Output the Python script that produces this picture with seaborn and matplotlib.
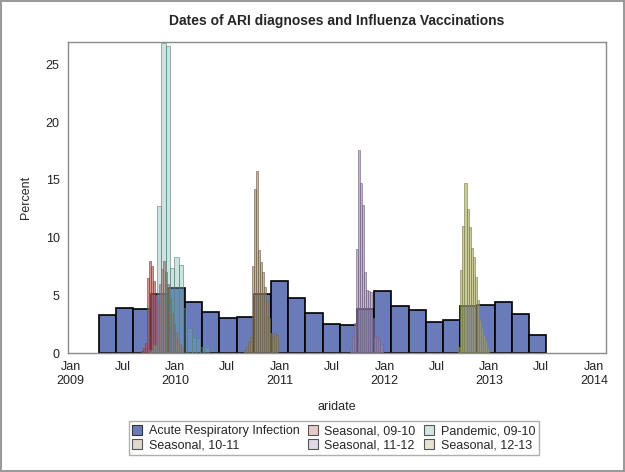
import numpy as np
import pandas as pd
import seaborn as sns
import matplotlib
matplotlib.use("Agg")
import matplotlib.pyplot as plt
import matplotlib.dates as mdates
from matplotlib.patches import Patch

# ---- data (percent of each group per bin) ----
ari_start = "2009-04-10"   # 60-day bins
ari_width = 60
ari_pct = [3.3, 3.9, 3.8, 5.1, 5.6, 4.4, 3.6, 3.0, 3.1, 5.1, 6.2, 4.8, 3.5,
           2.5, 2.4, 3.8, 5.4, 4.1, 3.7, 2.7, 2.85, 4.1, 4.15, 4.4, 3.4, 1.55]

s0910_start = "2009-09-04"  # weekly bins
s0910_pct = [0.2, 0.4, 0.9, 6.5, 8.0, 7.5, 6.2, 5.0, 4.5, 6.0, 7.3, 8.0, 7.0,
             6.0, 4.8, 3.5, 2.5, 1.8, 1.2, 0.8, 0.5]

p0910_start = "2009-09-30"  # 15-day bins
p0910_width = 15
p0910_pct = [0.3, 0.7, 12.7, 26.85, 26.6, 7.4, 8.3, 7.6, 3.9, 2.2, 1.4, 1.3, 0.5, 0.5]

s1011_start = "2010-08-30"
s1011_pct = [0.3, 0.5, 1.0, 1.4, 7.5, 14.2, 15.8, 8.9, 7.9, 7.0, 5.7, 4.5, 3.0,
             1.7, 1.4, 1.7, 1.6]

s1112_start = "2011-09-04"
s1112_pct = [0.4, 1.5, 2.6, 9.0, 17.6, 14.7, 12.8, 7.0, 5.5, 5.4, 5.3, 3.0,
             1.4, 1.5, 1.2, 0.8]

s1213_start = "2012-09-15"
s1213_pct = [0.5, 7.2, 11.0, 14.7, 12.5, 10.9, 9.1, 8.3, 6.6, 4.6, 2.9, 2.2,
             1.6, 1.1, 0.4]

week = 7

labels = ["Acute Respiratory Infection", "Seasonal, 09-10", "Pandemic, 09-10",
          "Seasonal, 10-11", "Seasonal, 11-12", "Seasonal, 12-13"]
colors = ["#6A7BBA", "#B5514A", "#6FAFA8", "#9A8262", "#9A82B0", "#A8A860"]
face_alpha = [1.0, 0.6, 0.35, 0.6, 0.6, 0.6]


def series(start, width, pct):
    s = mdates.date2num(pd.Timestamp(start))
    edges = s + width * np.arange(len(pct) + 1)
    centers = (edges[:-1] + edges[1:]) / 2
    return list(edges), pd.DataFrame({"d": centers, "pct": pct})


def rgba(c, a):
    return matplotlib.colors.to_rgba(c, a)


def darker(c, f=0.75, a=0.7):
    r, g, b = matplotlib.colors.to_rgb(c)
    return (r * f, g * f, b * f, a)


sns.set_style("white")
plt.rcParams["font.family"] = ["Liberation Sans", "DejaVu Sans"]

fig = plt.figure(figsize=(6.25, 4.72), dpi=100, edgecolor="#9a9a9a", linewidth=1.5)
ax = fig.add_axes([0.1088, 0.252, 0.861, 0.659])

# ARI first, vaccinations on top
e, df = series(ari_start, ari_width, ari_pct)
sns.histplot(data=df, x="d", weights="pct", bins=e, ax=ax,
             facecolor=rgba(colors[0], 1.0), edgecolor="black", linewidth=1.2)

vacc = [(s0910_start, week, s0910_pct, 1),
        (p0910_start, p0910_width, p0910_pct, 2),
        (s1011_start, week, s1011_pct, 3),
        (s1112_start, week, s1112_pct, 4),
        (s1213_start, week, s1213_pct, 5)]
for st, w, p, i in vacc:
    e, df = series(st, w, p)
    sns.histplot(data=df, x="d", weights="pct", bins=e, ax=ax,
                 facecolor=rgba(colors[i], face_alpha[i]),
                 edgecolor=darker(colors[i]), linewidth=0.6)

# axes styling
ax.set_xlim(mdates.date2num(pd.Timestamp("2008-12-23")),
            mdates.date2num(pd.Timestamp("2014-02-12")))
ax.set_ylim(0, 26.95)
ax.set_yticks([0, 5, 10, 15, 20, 25])

ax.xaxis.set_major_locator(mdates.MonthLocator(bymonth=[1, 7]))


def fmt(x, pos):
    d = mdates.num2date(x)
    return "Jan\n%d" % d.year if d.month == 1 else "Jul"


ax.xaxis.set_major_formatter(plt.FuncFormatter(fmt))

for sp in ax.spines.values():
    sp.set_color("#8c8c8c")
    sp.set_linewidth(1.0)
ax.tick_params(axis="both", direction="out", length=4, width=0.8, color="#8c8c8c",
               labelsize=9, labelcolor="#222222", pad=2)
ax.set_xlabel("aridate", fontsize=9, labelpad=10)
ax.set_ylabel("Percent", fontsize=9, labelpad=10)
ax.set_title("Dates of ARI diagnoses and Influenza Vaccinations",
             fontsize=10, fontweight="bold", pad=12)

# legend, row-major order in 3 columns
handles = [Patch(facecolor=colors[0], edgecolor="#333333", linewidth=0.8)]
for i in range(1, 6):
    handles.append(Patch(facecolor=rgba(colors[i], 0.3), edgecolor="#555555", linewidth=0.8))
order = [0, 3, 1, 4, 2, 5]
leg = fig.legend([handles[i] for i in order], [labels[i] for i in order],
                 loc="center", bbox_to_anchor=(0.534, 0.072), ncol=3, fontsize=9,
                 frameon=True, fancybox=False, edgecolor="#9a9a9a",
                 handlelength=0.8, handleheight=0.8, handletextpad=0.5,
                 columnspacing=0.7, borderpad=0.3, labelspacing=0.15)
leg.get_frame().set_linewidth(1.0)

fig.savefig("out.png", dpi=100)
